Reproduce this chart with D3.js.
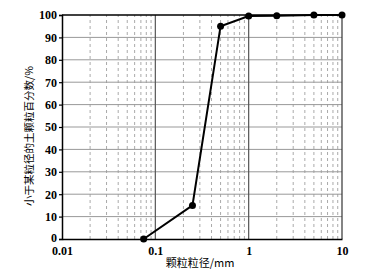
<!DOCTYPE html>
<html>
<head>
<meta charset="utf-8">
<script src="https://cdn.jsdelivr.net/npm/d3@7"></script>
<style>
  body { margin: 0; background: #fff; }
</style>
</head>
<body>
<svg id="chart" width="372" height="277"></svg>
<script>
// grain size (mm) and percent passing
const sizes = [0.075, 0.25, 0.5, 1, 2, 5, 10];
const passing = [0, 15, 95, 99.5, 99.7, 100, 100];
const xTicks = [0.01, 0.1, 1, 10];
const yTicks = [0, 10, 20, 30, 40, 50, 60, 70, 80, 90, 100];

const margin = { left: 62, right: 30, top: 15, bottom: 38 };
const width = 372, height = 277;
const numFont = "'Liberation Serif', 'DejaVu Serif', serif";
const cjkFont = "'Noto Sans CJK SC', sans-serif";

const svg = d3.select("#chart");

const x = d3.scaleLog()
    .domain([0.01, 10])
    .range([margin.left, width - margin.right]);

const y = d3.scaleLinear()
    .domain([0, 100])
    .range([height - margin.bottom, margin.top]);

// minor (dashed) verticals: 2..9 in each decade
const minor = [];
[0.01, 0.1, 1].forEach(d => {
  for (let k = 2; k <= 9; k++) minor.push(d * k);
});

svg.append("g")
  .selectAll("line")
  .data(minor)
  .join("line")
    .attr("x1", d => x(d)).attr("x2", d => x(d))
    .attr("y1", y(0)).attr("y2", y(100))
    .attr("stroke", "#aaa")
    .attr("stroke-width", 1)
    .attr("stroke-dasharray", "3,3");

// horizontal grid
svg.append("g")
  .selectAll("line")
  .data(yTicks.slice(1, -1))
  .join("line")
    .attr("x1", x(0.01)).attr("x2", x(10))
    .attr("y1", d => y(d)).attr("y2", d => y(d))
    .attr("stroke", "#999")
    .attr("stroke-width", 1);

// decade verticals
svg.append("g")
  .selectAll("line")
  .data([0.1, 1])
  .join("line")
    .attr("x1", d => x(d)).attr("x2", d => x(d))
    .attr("y1", y(0)).attr("y2", y(100))
    .attr("stroke", "#555")
    .attr("stroke-width", 1.2);

// frame top and right
svg.append("line")
  .attr("x1", x(0.01)).attr("x2", x(10))
  .attr("y1", y(100)).attr("y2", y(100))
  .attr("stroke", "#000").attr("stroke-width", 1.5);
svg.append("line")
  .attr("x1", x(10)).attr("x2", x(10))
  .attr("y1", y(0)).attr("y2", y(100))
  .attr("stroke", "#333").attr("stroke-width", 1.2);

const xAxis = svg.append("g")
  .attr("transform", `translate(0,${y(0)})`)
  .call(d3.axisBottom(x).tickValues(xTicks).tickFormat(d => String(d)).tickSize(0).tickPadding(7));
xAxis.select(".domain").attr("stroke", "#000").attr("stroke-width", 1.5);

const yAxis = svg.append("g")
  .attr("transform", `translate(${x(0.01)},0)`)
  .call(d3.axisLeft(y).tickValues(yTicks).tickSize(3).tickPadding(2));
yAxis.select(".domain").attr("stroke", "#000").attr("stroke-width", 1.5);
yAxis.selectAll(".tick line").attr("stroke", "#000").attr("stroke-width", 1.2);

svg.selectAll(".tick text")
  .attr("font-family", numFont)
  .attr("font-weight", "bold")
  .attr("font-size", 12)
  .attr("fill", "#000");
// keep the "0" clear of the "0.01" below it
yAxis.selectAll(".tick text").filter(d => d === 0).attr("dy", "0.2em");

// curve
const line = d3.line()
  .x((d, i) => x(sizes[i]))
  .y((d, i) => y(passing[i]));

svg.append("path")
  .datum(passing)
  .attr("d", line)
  .attr("fill", "none")
  .attr("stroke", "#000")
  .attr("stroke-width", 2);

svg.append("g")
  .selectAll("circle")
  .data(passing)
  .join("circle")
    .attr("cx", (d, i) => x(sizes[i]))
    .attr("cy", d => y(d))
    .attr("r", 3.5)
    .attr("fill", "#000");

// titles
svg.append("text")
  .attr("x", 200).attr("y", 267)
  .attr("text-anchor", "middle")
  .attr("font-family", cjkFont)
  .attr("font-size", 11)
  .text("颗粒粒径/mm");

svg.append("text")
  .attr("transform", "translate(33,136) rotate(-90)")
  .attr("text-anchor", "middle")
  .attr("font-family", cjkFont)
  .attr("font-size", 10.5)
  .text("小于某粒径的土颗粒百分数/%");
</script>
</body>
</html>
